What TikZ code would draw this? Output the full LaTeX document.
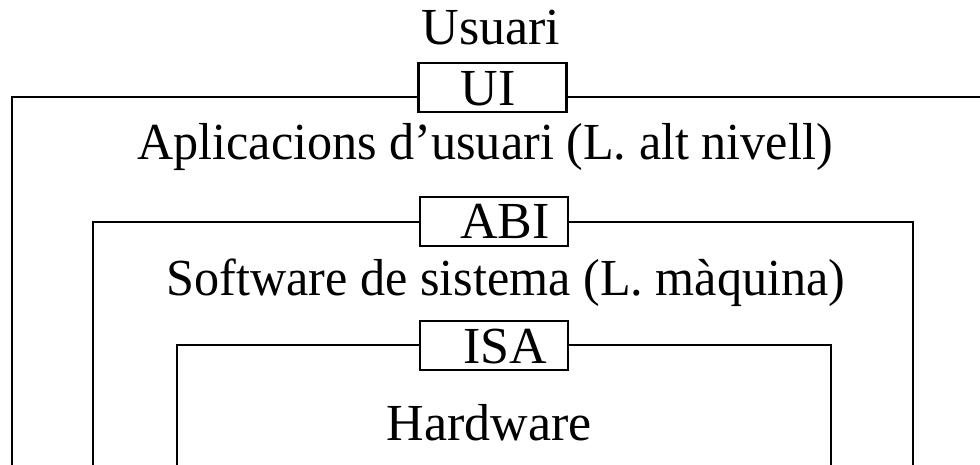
\documentclass[tikz,border=0pt]{standalone}
\usepackage{fontspec}
\setmainfont{Liberation Serif}
\begin{document}
\begin{tikzpicture}[x=1pt,y=-1pt,
  frame/.style={line width=2.2pt, line join=miter},
  tag/.style={draw, line width=2.2pt, fill=white, minimum width=148pt,
              minimum height=49pt, inner sep=0pt},
  word/.style={inner sep=0pt, anchor=base, font=\fontsize{52}{58}\selectfont},
  narrow/.style={xscale=0.965}]
\clip (0,0) rectangle (980,465);
\fill[white] (0,0) rectangle (980,465);

% nested layers, open at the bottom
\draw[frame] (12,470) -- (12,97) -- (990,97);
\draw[frame] (93,470) -- (93,222) -- (913,222) -- (913,470);
\draw[frame] (177,470) -- (177,345) -- (831,345) -- (831,470);

% interface tags sitting on the top edges
\node[tag] (ui)  at (492.5,87.5)  {};
\node[tag] (abi) at (494,221.5)   {};
\node[tag] (isa) at (494,345.5)   {};

\node[word] (uitxt)  at (488,106) {UI};
\node[word] (abitxt) at (505,239) {ABI};
\node[word] (isatxt) at (505,363) {ISA};

% layer names
\node[word] (usr) at (491,45)  {Usuari};
\node[word,narrow] (app) at (485,160) {Aplicacions d’usuari (L. alt nivell)};
\node[word,narrow] (sys) at (506,295) {Software de sistema (L. màquina)};
\node[word] (hw)  at (489,440) {Hardware};
\end{tikzpicture}
\end{document}
